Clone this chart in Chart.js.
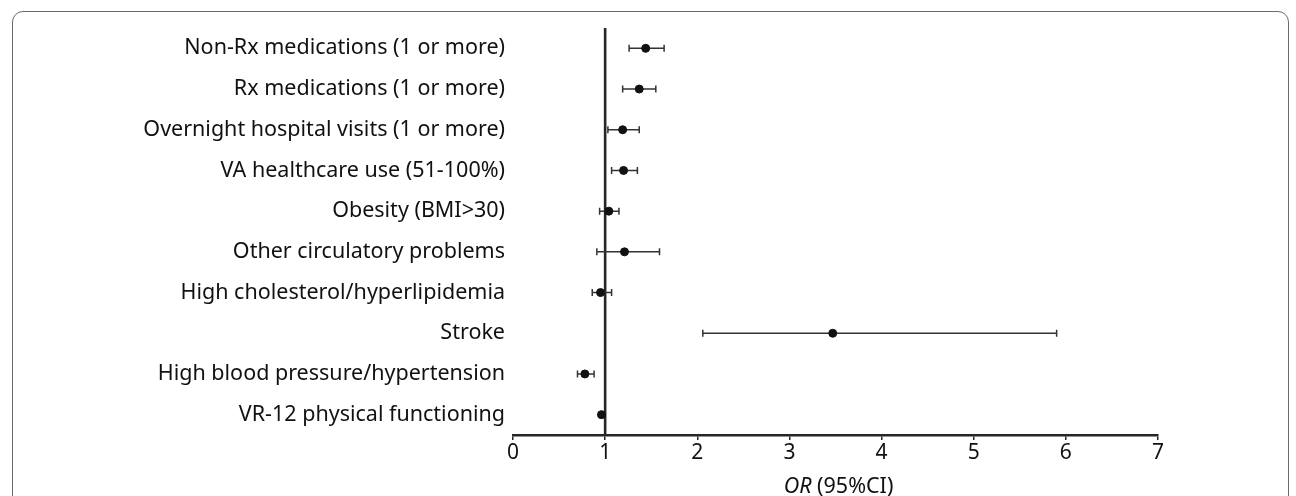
<!DOCTYPE html>
<html>
<head>
<meta charset="utf-8">
<script src="https://cdn.jsdelivr.net/npm/chart.js@4.4.1/dist/chart.umd.min.js"></script>
<style>
  html, body { margin: 0; padding: 0; background: #fff; }
  #wrap { position: relative; width: 1296px; height: 496px; overflow: hidden; }
  #frame { position: absolute; left: 12px; top: 11px; width: 1277px; height: 600px;
           border: 1px solid #6a6a6a; border-radius: 11px; box-sizing: border-box; }
  #c { position: absolute; left: 0; top: 0; }
</style>
</head>
<body>
<div id="wrap">
  <div id="frame"></div>
  <canvas id="c" width="1296" height="496"></canvas>
</div>
<script>
const categories = [
  "Non-Rx medications (1 or more)",
  "Rx medications (1 or more)",
  "Overnight hospital visits (1 or more)",
  "VA healthcare use (51-100%)",
  "Obesity (BMI>30)",
  "Other circulatory problems",
  "High cholesterol/hyperlipidemia",
  "Stroke",
  "High blood pressure/hypertension",
  "VR-12 physical functioning"
];
const oddsRatio = [1.44, 1.37, 1.19, 1.20, 1.04, 1.21, 0.95, 3.47, 0.78, 0.96];
const ciLower   = [1.26, 1.19, 1.03, 1.07, 0.94, 0.91, 0.86, 2.06, 0.70, 0.95];
const ciUpper   = [1.64, 1.55, 1.37, 1.35, 1.15, 1.59, 1.07, 5.90, 0.88, 0.97];
const xTicks = [0, 1, 2, 3, 4, 5, 6, 7];

const FONT = "'Noto Sans', 'Open Sans', sans-serif";

const errorBars = {
  id: 'errorBars',
  beforeDatasetsDraw(chart) {
    const { ctx, scales: { x, y } } = chart;
    ctx.save();
    ctx.strokeStyle = '#333';
    ctx.lineWidth = 1.5;
    categories.forEach((cat, i) => {
      const py = y.getPixelForValue(i);
      const x1 = x.getPixelForValue(ciLower[i]);
      const x2 = x.getPixelForValue(ciUpper[i]);
      ctx.beginPath();
      ctx.moveTo(x1, py); ctx.lineTo(x2, py);
      ctx.moveTo(x1, py - 3.5); ctx.lineTo(x1, py + 3.5);
      ctx.moveTo(x2, py - 3.5); ctx.lineTo(x2, py + 3.5);
      ctx.stroke();
    });
    ctx.restore();
  }
};

const refLine = {
  id: 'refLine',
  beforeDatasetsDraw(chart) {
    const { ctx, chartArea, scales: { x } } = chart;
    const px = x.getPixelForValue(1);
    ctx.save();
    ctx.strokeStyle = '#262626';
    ctx.lineWidth = 2.6;
    ctx.beginPath();
    ctx.moveTo(px, chartArea.top);
    ctx.lineTo(px, chartArea.bottom);
    ctx.stroke();
    ctx.restore();
  }
};

const axisTitle = {
  id: 'axisTitle',
  afterDraw(chart) {
    const { ctx, chartArea } = chart;
    const cx = (chartArea.left + chartArea.right) / 2 + 3;
    const yy = 487;
    ctx.save();
    ctx.fillStyle = '#111';
    ctx.textBaseline = 'middle';
    const it = "italic 21.5px " + FONT;
    const rg = "21.5px " + FONT;
    ctx.font = it; const w1 = ctx.measureText("OR").width;
    ctx.font = rg; const w2 = ctx.measureText(" (95%CI)").width;
    let sx = cx - (w1 + w2) / 2;
    ctx.font = it; ctx.textAlign = 'left'; ctx.fillText("OR", sx, yy);
    ctx.font = rg; ctx.fillText(" (95%CI)", sx + w1, yy);
    ctx.restore();
  }
};

new Chart(document.getElementById('c'), {
  type: 'scatter',
  data: {
    datasets: [{
      data: categories.map((c, i) => ({ x: oddsRatio[i], y: c })),
      backgroundColor: '#111',
      borderColor: '#111',
      pointRadius: 4,
      pointHoverRadius: 4
    }]
  },
  options: {
    responsive: false,
    animation: false,
    layout: { padding: { left: 0, right: 138, top: 28, bottom: 0 } },
    plugins: { legend: { display: false }, tooltip: { enabled: false } },
    scales: {
      x: {
        type: 'linear',
        min: 0, max: 7,
        afterBuildTicks(s) { s.ticks = xTicks.map(v => ({ value: v })); },
        afterFit(s) { s.height = 61; },
        border: { display: true, color: '#262626', width: 2.6 },
        grid: { drawOnChartArea: false, drawTicks: true, tickLength: 5, color: '#262626', lineWidth: 1.5 },
        ticks: { color: '#111', font: { family: FONT, size: 21 }, padding: 0 }
      },
      y: {
        type: 'category',
        labels: categories,
        offset: true,
        afterFit(s) { s.width = 513; },
        border: { display: false },
        grid: { display: false, drawTicks: false },
        ticks: { color: '#111', font: { family: FONT, size: 21.5 }, padding: 8 }
      }
    }
  },
  plugins: [refLine, errorBars, axisTitle]
});
</script>
</body>
</html>
